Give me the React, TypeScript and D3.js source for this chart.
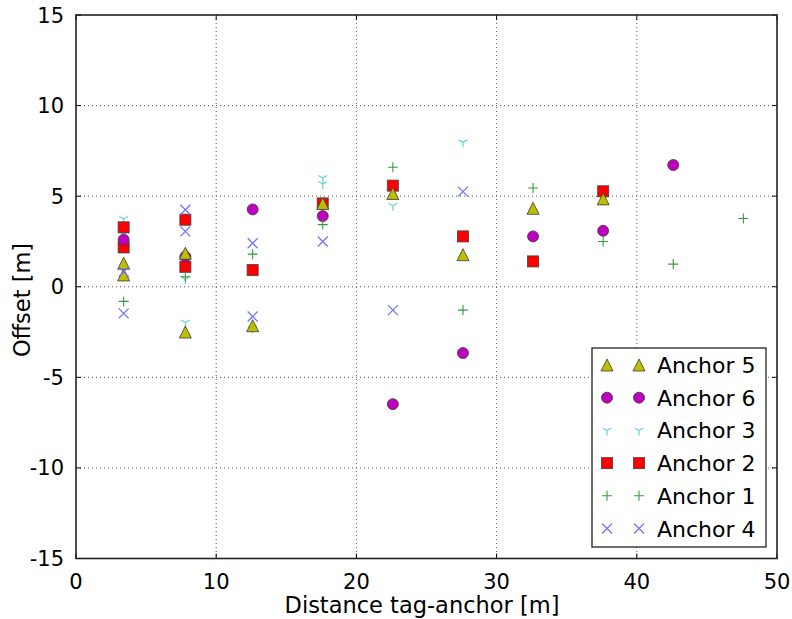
import React from "react";
import * as d3 from "d3";

const W = 792;
const H = 619;

// x ticks / y ticks
const xTicks = [0, 10, 20, 30, 40, 50];
const yTicks = [-15, -10, -5, 0, 5, 10, 15];

// Series data
const a5x = [3.4, 3.4, 7.8, 7.8, 12.6, 17.6, 22.6, 27.6, 32.6, 37.6];
const a5y = [1.3, 0.65, 1.85, -2.5, -2.15, 4.6, 5.15, 1.77, 4.33, 4.85];
const a6x = [3.4, 7.8, 12.6, 17.6, 22.6, 27.6, 32.6, 37.6, 42.6];
const a6y = [2.6, 1.66, 4.27, 3.9, -6.48, -3.66, 2.78, 3.09, 6.72];
const a3x = [3.4, 3.4, 7.8, 7.8, 12.6, 17.6, 17.6, 22.6, 27.6];
const a3y = [3.74, 2.9, 0.42, -1.97, -2.3, 6.0, 5.67, 4.47, 7.97];
const a2x = [3.4, 3.4, 7.8, 7.8, 12.6, 17.6, 22.6, 27.6, 32.6, 37.6];
const a2y = [3.28, 2.17, 3.7, 1.1, 0.92, 4.6, 5.58, 2.78, 1.4, 5.27];
const a1x = [3.4, 7.8, 12.6, 17.6, 22.6, 27.6, 32.6, 37.6, 42.6, 47.6];
const a1y = [-0.81, 0.55, 1.8, 3.43, 6.6, -1.29, 5.45, 2.5, 1.25, 3.77];
const a4x = [3.4, 3.4, 7.8, 7.8, 12.6, 12.6, 17.6, 22.6, 27.6];
const a4y = [0.83, -1.47, 4.25, 3.06, 2.4, -1.64, 2.5, -1.29, 5.25];

type Kind = "tri" | "circle" | "y" | "square" | "plus" | "x";
interface Series {
  name: string;
  kind: Kind;
  xs: number[];
  ys: number[];
  color: string;
}

const legendOrder: Series[] = [
  { name: "Anchor 5", kind: "tri", xs: a5x, ys: a5y, color: "#bfbf00" },
  { name: "Anchor 6", kind: "circle", xs: a6x, ys: a6y, color: "#bf00bf" },
  { name: "Anchor 3", kind: "y", xs: a3x, ys: a3y, color: "#5fd6d6" },
  { name: "Anchor 2", kind: "square", xs: a2x, ys: a2y, color: "#ff0000" },
  { name: "Anchor 1", kind: "plus", xs: a1x, ys: a1y, color: "#3a9a3a" },
  { name: "Anchor 4", kind: "x", xs: a4x, ys: a4y, color: "#6f6fff" },
];
// drawing order
const drawOrder = [2, 3, 1, 0, 4, 5].map((i) => legendOrder[i]);

const left = 76;
const right = 777;
const top = 15;
const bottom = 558.5;

const xScale = d3.scaleLinear().domain([0, 50]).range([left, right]);
const yScale = d3.scaleLinear().domain([-15, 15]).range([bottom, top]);

const FONT = "DejaVu Sans, sans-serif";

function Marker({ kind, x, y, color }: { kind: Kind; x: number; y: number; color: string }) {
  const edge = "#3a3a3a";
  switch (kind) {
    case "tri": {
      const r = 6;
      return (
        <path
          d={`M${x},${y - r}L${x - r},${y + r}L${x + r},${y + r}Z`}
          fill={color}
          stroke={edge}
          strokeWidth={1}
          strokeOpacity={0.8}
        />
      );
    }
    case "circle":
      return <circle cx={x} cy={y} r={5.5} fill={color} stroke={edge} strokeWidth={1} strokeOpacity={0.8} />;
    case "square":
      return (
        <rect x={x - 5.5} y={y - 5.5} width={11} height={11} fill={color} stroke={edge} strokeWidth={1} strokeOpacity={0.8} />
      );
    case "y": {
      const r = 5;
      const dx = r * 0.866;
      const dy = r * 0.5;
      return (
        <path
          d={`M${x},${y}L${x},${y + r}M${x},${y}L${x - dx},${y - dy}M${x},${y}L${x + dx},${y - dy}`}
          stroke={color}
          strokeWidth={1.2}
          fill="none"
        />
      );
    }
    case "plus": {
      const r = 5;
      return (
        <path d={`M${x - r},${y}L${x + r},${y}M${x},${y - r}L${x},${y + r}`} stroke={color} strokeWidth={1.1} fill="none" />
      );
    }
    case "x": {
      const r = 5;
      return (
        <path
          d={`M${x - r},${y - r}L${x + r},${y + r}M${x - r},${y + r}L${x + r},${y - r}`}
          stroke={color}
          strokeWidth={1.2}
          fill="none"
        />
      );
    }
  }
  return null;
}

export default function App() {
  const legX = 592;
  const legY = 348;
  const legW = 174;
  const legH = 199;
  const rowH = 32.7;
  return (
    <svg
      width={W}
      height={H}
      viewBox={`0 0 ${W} ${H}`}
      style={{ position: "absolute", left: 0, top: 0, background: "#fff" }}
      fontFamily={FONT}
    >
      <rect x={0} y={0} width={W} height={H} fill="#fff" />
      {/* grid */}
      <g stroke="#555" strokeWidth={1} strokeDasharray="1,3">
        {xTicks.slice(1, -1).map((t) => (
          <line key={"gx" + t} x1={xScale(t)} x2={xScale(t)} y1={top} y2={bottom} />
        ))}
        {yTicks.slice(1, -1).map((t) => (
          <line key={"gy" + t} x1={left} x2={right} y1={yScale(t)} y2={yScale(t)} />
        ))}
      </g>
      {/* ticks inward */}
      <g stroke="#000" strokeWidth={1}>
        {xTicks.map((t) => (
          <g key={"tx" + t}>
            <line x1={xScale(t)} x2={xScale(t)} y1={bottom} y2={bottom - 5} />
            <line x1={xScale(t)} x2={xScale(t)} y1={top} y2={top + 5} />
          </g>
        ))}
        {yTicks.map((t) => (
          <g key={"ty" + t}>
            <line x1={left} x2={left + 5} y1={yScale(t)} y2={yScale(t)} />
            <line x1={right} x2={right - 5} y1={yScale(t)} y2={yScale(t)} />
          </g>
        ))}
      </g>
      {/* data */}
      {drawOrder.map((s) => (
        <g key={s.name}>
          {s.xs.map((xv, i) => (
            <Marker key={i} kind={s.kind} x={xScale(xv)} y={yScale(s.ys[i])} color={s.color} />
          ))}
        </g>
      ))}
      {/* frame */}
      <rect x={left} y={top} width={right - left} height={bottom - top} fill="none" stroke="#222" strokeWidth={1.6} />
      {/* tick labels */}
      <g fontSize={21} fill="#000">
        {xTicks.map((t) => (
          <text key={"lx" + t} x={xScale(t)} y={bottom + 30} textAnchor="middle">
            {t}
          </text>
        ))}
        {yTicks.map((t) => (
          <text key={"ly" + t} x={left - 12} y={yScale(t) + 7.5} textAnchor="end">
            {t}
          </text>
        ))}
      </g>
      {/* axis labels */}
      <text x={422} y={613} textAnchor="middle" fontSize={22.5}>
        Distance tag-anchor [m]
      </text>
      <text transform={`translate(30,300) rotate(-90)`} textAnchor="middle" fontSize={22.5}>
        Offset [m]
      </text>
      {/* legend */}
      <rect x={legX} y={legY} width={legW} height={legH} fill="#fff" stroke="#222" strokeWidth={1.3} />
      {legendOrder.map((s, i) => {
        const cy = legY + 17 + i * rowH;
        return (
          <g key={"leg" + s.name}>
            <Marker kind={s.kind} x={legX + 15} y={cy} color={s.color} />
            <Marker kind={s.kind} x={legX + 47} y={cy} color={s.color} />
            <text x={legX + 65} y={cy + 8} fontSize={22}>
              {s.name}
            </text>
          </g>
        );
      })}
    </svg>
  );
}
